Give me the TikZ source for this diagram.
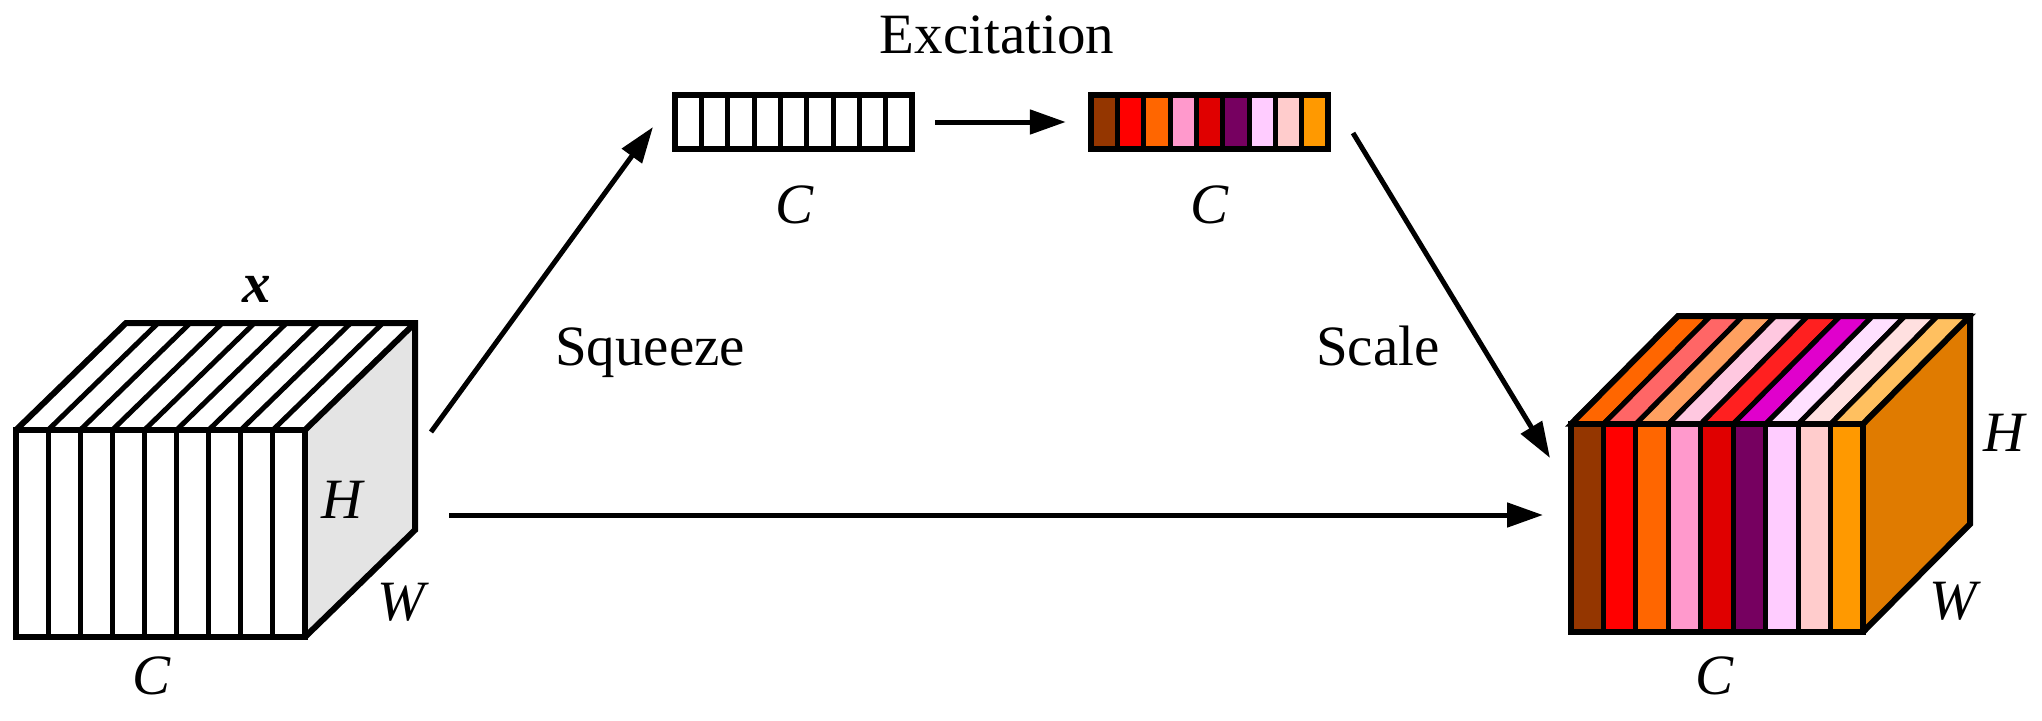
\documentclass[tikz,border=0pt]{standalone}
\usepackage{fontspec}
\setmainfont{Liberation Serif}
\usetikzlibrary{arrows.meta}
\definecolor{sideL}{HTML}{E4E4E4}
\definecolor{sideR}{HTML}{E07B00}
\definecolor{sa}{HTML}{943600}
\definecolor{sb}{HTML}{FF0000}
\definecolor{sc}{HTML}{FF6600}
\definecolor{sd}{HTML}{FF99CC}
\definecolor{se}{HTML}{E00000}
\definecolor{sf}{HTML}{760060}
\definecolor{sg}{HTML}{FFCCFF}
\definecolor{sh}{HTML}{FFCCCC}
\definecolor{si}{HTML}{FF9900}
\definecolor{ta}{HTML}{FF6600}
\definecolor{tb}{HTML}{FF6666}
\definecolor{tc}{HTML}{FFA060}
\definecolor{td}{HTML}{FFC8E0}
\definecolor{te}{HTML}{FF2020}
\definecolor{tf}{HTML}{E000CC}
\definecolor{tg}{HTML}{FFE0FF}
\definecolor{th}{HTML}{FFE0E0}
\definecolor{ti}{HTML}{FFC060}
\begin{document}
\begin{tikzpicture}[x=1pt,y=-1pt,
  edge/.style={line width=5pt,-{Triangle[length=36pt,width=24pt]}},
  lbl/.style={font=\fontsize{57}{68}\selectfont, inner sep=0pt, anchor=base},
  outline/.style={line width=6pt},
  divider/.style={line width=5pt},
  vecbox/.style={draw=none, minimum width=237pt, minimum height=54pt, inner sep=0pt}]
\useasboundingbox (0,0) rectangle (2042,720);

% ---------- left cube ----------
\fill[sideL] (305,430) -- (415,323) -- (415,530) -- (305,637) -- cycle;
\foreach \i in {1,...,8}{
  \pgfmathsetmacro\xx{16+\i*289/9}
  \draw[divider] (\xx,430) -- (\xx,637);
  \draw[divider] (\xx,430) -- (\xx+110,323);
}
\draw[outline] (16,430) rectangle (305,637);
\draw[outline,line join=miter] (16,430) -- (126,323) -- (415,323) -- (415,530) -- (305,637);
\draw[outline] (305,430) -- (415,323);

% ---------- right cube ----------
\foreach \i/\cf/\ct in {0/sa/ta,1/sb/tb,2/sc/tc,3/sd/td,4/se/te,5/sf/tf,6/sg/tg,7/sh/th,8/si/ti}{
  \pgfmathsetmacro\xa{1571+\i*292/9}
  \pgfmathsetmacro\xb{1571+(\i+1)*292/9}
  \filldraw[fill=\cf, divider] (\xa,424) rectangle (\xb,632);
  \filldraw[fill=\ct, divider] (\xa,424) -- (\xb,424) -- (\xb+107,316) -- (\xa+107,316) -- cycle;
}
\fill[sideR] (1863,424) -- (1970,316) -- (1970,524) -- (1863,632) -- cycle;
\draw[outline] (1571,424) rectangle (1863,632);
\draw[outline,line join=miter] (1571,424) -- (1678,316) -- (1970,316) -- (1970,524) -- (1863,632);
\draw[outline] (1863,424) -- (1970,316);

% ---------- vectors ----------
\node[vecbox] (v1) at (793.5,122) {};
\node[vecbox] (v2) at (1209.5,122) {};
\foreach \i in {1,...,8}{
  \pgfmathsetmacro\xx{675+\i*237/9}
  \draw[divider] (\xx,95) -- (\xx,149);
}
\foreach \i/\cf in {0/sa,1/sb,2/sc,3/sd,4/se,5/sf,6/sg,7/sh,8/si}{
  \pgfmathsetmacro\xa{1091+\i*237/9}
  \pgfmathsetmacro\xb{1091+(\i+1)*237/9}
  \filldraw[fill=\cf, divider] (\xa,95) rectangle (\xb,149);
}
\draw[outline] (v1.north west) rectangle (v1.south east);
\draw[outline] (v2.north west) rectangle (v2.south east);

% ---------- connector ends ----------
\coordinate (sqA) at (431,432);
\coordinate (sqB) at (653,127);
\coordinate (scA) at (1353,133);
\coordinate (scB) at (1550,458);
\coordinate (idA) at (449,515);
\coordinate (idB) at (1543,515);

\draw[edge] (sqA) -- (sqB);
\draw[edge, shorten <=23pt, shorten >=25pt] (v1.east) -- (v2.west);
\draw[edge] (scA) -- (scB);
\draw[edge] (idA) -- (idB);

% ---------- labels ----------
\node[lbl] (lx) at (257,302) {\textbf{\textit{x}}};
\node[lbl] (lHl) at (343,518) {\textit{H}};
\node[lbl] (lWl) at (403,620) {\textit{W}};
\node[lbl] (lCl) at (152,694) {\textit{C}};
\node[lbl] (lHr) at (2005,451) {\textit{H}};
\node[lbl] (lWr) at (1955,619) {\textit{W}};
\node[lbl] (lCr) at (1715,694) {\textit{C}};
\node[lbl] (lC1) at (795,223) {\textit{C}};
\node[lbl] (lC2) at (1210,223) {\textit{C}};
\node[lbl] (lexc) at (997,53) {Excitation};
\node[lbl] (lsq) at (650,365) {Squeeze};
\node[lbl] (lsc) at (1378,365) {Scale};
\end{tikzpicture}
\end{document}
